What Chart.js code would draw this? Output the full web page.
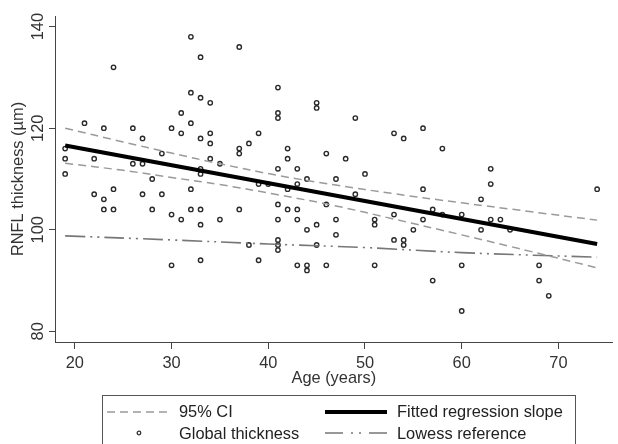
<!DOCTYPE html>
<html lang="en">
<head>
  <meta charset="UTF-8">
  <title>RNFL thickness by age</title>
  <script src="https://cdn.jsdelivr.net/npm/chart.js"></script>
  <style>
    body {
      margin: 0;
      background: #fff;
      font-family: "Liberation Sans", Arial, sans-serif;
    }
    #wrap {
      position: relative;
      width: 618px;
      height: 444px;
      overflow: hidden;
    }
    #legend {
      position: absolute;
      left: 102px;
      top: 395px;
      width: 472px;
      height: 70px;
      border: 1px solid #555;
      color: #222;
      font-size: 16.4px;
    }
    #legend .item {
      position: absolute;
      white-space: nowrap;
      line-height: 20px;
    }
    #legend svg {
      position: absolute;
    }
  </style>
</head>
<body>
<div id="wrap">
  <canvas id="myChart" width="618" height="444"></canvas>
  <div id="legend">
    <svg style="left:4px;top:11px" width="62" height="10"><line x1="0" y1="5" x2="62" y2="5" stroke="#9a9a9a" stroke-width="1.5" stroke-dasharray="8,5"/></svg>
    <div class="item" style="left:76px;top:5px">95% CI</div>
    <svg style="left:31px;top:32px" width="10" height="10"><circle cx="5" cy="5" r="1.8" fill="none" stroke="#333" stroke-width="1.3"/></svg>
    <div class="item" style="left:76px;top:27px">Global thickness</div>
    <svg style="left:222px;top:11px" width="62" height="10"><line x1="0" y1="5" x2="62" y2="5" stroke="#000" stroke-width="4"/></svg>
    <div class="item" style="left:294px;top:5px">Fitted regression slope</div>
    <svg style="left:222px;top:32px" width="62" height="10"><line x1="0" y1="5" x2="62" y2="5" stroke="#777" stroke-width="1.5" stroke-dasharray="18,8,2,6,2,8,18"/></svg>
    <div class="item" style="left:294px;top:27px">Lowess reference</div>
  </div>
</div>

<script>
  // Scatter values (age in years, thickness in µm)
  const ageValues = [
    32, 24, 33, 32, 33, 31, 21, 23, 26, 30, 32, 31, 27, 33, 19, 29, 19, 22, 26, 27, 19, 28, 33, 33,
    37, 41, 34, 45, 45, 41, 41, 49, 34, 39, 53, 54, 34, 38, 37, 37, 42, 42, 46, 48, 34, 35, 41, 43, 44, 47, 50,
    56, 58, 63,
    22, 23, 24, 23, 24, 27, 29, 28, 30, 31, 32, 32, 33, 33, 30, 33,
    35, 37, 38, 39, 40, 39, 41, 41, 41, 41, 41, 42, 42, 43, 43, 43, 43, 44, 44, 44, 45, 45, 46, 46, 47, 47, 49, 51, 51, 51, 53, 53, 54, 54,
    55, 56, 56, 57, 57, 58, 60, 60, 60, 62, 62, 63, 63, 64, 65, 68, 68, 69, 74
  ];
  const thicknessValues = [
    138, 132, 134, 127, 126, 123, 121, 120, 120, 120, 121, 119, 118, 118, 116, 115, 114, 114, 113, 113, 111, 110, 112, 111,
    136, 128, 125, 125, 124, 123, 122, 122, 119, 119, 119, 118, 117, 117, 116, 115, 116, 114, 115, 114, 114, 113, 112, 112, 110, 110, 111,
    120, 116, 112,
    107, 106, 108, 104, 104, 107, 107, 104, 103, 102, 108, 104, 104, 101, 93, 94,
    102, 104, 97, 109, 109, 94, 105, 102, 98, 97, 96, 108, 104, 109, 104, 102, 93, 100, 93, 92, 101, 97, 105, 93, 102, 99, 107, 102, 101, 93, 103, 98, 98, 97,
    100, 108, 102, 104, 90, 103, 103, 93, 84, 106, 100, 109, 102, 102, 100, 93, 90, 87, 108
  ];

  // Fitted regression slope
  const fitAge = [19, 74];
  const fitThickness = [116.6, 97.2];

  // 95% confidence band
  const ciAge = [19, 25, 30, 35, 41, 47, 53, 60, 67, 74];
  const ciUpper = [120.0, 117.3, 115.1, 113.0, 110.7, 108.8, 107.1, 105.3, 103.6, 101.9];
  const ciLower = [113.1, 111.7, 110.3, 108.9, 106.9, 104.7, 102.1, 99.0, 95.8, 92.5];

  // Lowess reference curve
  const lowessAge = [19, 30, 40, 50, 60, 74];
  const lowessThickness = [98.8, 98.0, 97.2, 96.5, 95.5, 94.6];

  const xTicks = [20, 30, 40, 50, 60, 70];
  const yTicks = [80, 100, 120, 140];

  const toPoints = (xs, ys) => xs.map((x, i) => ({ x: x, y: ys[i] }));

  const axisColor = '#444';
  const textColor = '#333';
  const font = { family: '"Liberation Sans", Arial, sans-serif', size: 16.4 };

  const ctx = document.getElementById('myChart').getContext('2d');
  const chart = new Chart(ctx, {
    type: 'scatter',
    data: {
      datasets: [
        {
          label: 'Global thickness',
          data: toPoints(ageValues, thicknessValues),
          pointRadius: 2.2,
          pointBorderWidth: 1.4,
          pointBorderColor: '#2a2a2a',
          pointBackgroundColor: 'rgba(0,0,0,0)',
          order: 4
        },
        {
          label: 'Lowess reference',
          data: toPoints(lowessAge, lowessThickness),
          showLine: true,
          pointRadius: 0,
          borderColor: '#777',
          borderWidth: 1.6,
          borderDash: [20, 5, 2, 5, 2, 5],
          tension: 0.4,
          order: 3
        },
        {
          label: '95% CI',
          data: toPoints(ciAge, ciUpper),
          showLine: true,
          pointRadius: 0,
          borderColor: '#9a9a9a',
          borderWidth: 1.5,
          borderDash: [8, 5],
          tension: 0.4,
          order: 2
        },
        {
          label: '95% CI lower',
          data: toPoints(ciAge, ciLower),
          showLine: true,
          pointRadius: 0,
          borderColor: '#9a9a9a',
          borderWidth: 1.5,
          borderDash: [8, 5],
          tension: 0.4,
          order: 2
        },
        {
          label: 'Fitted regression slope',
          data: toPoints(fitAge, fitThickness),
          showLine: true,
          pointRadius: 0,
          borderColor: '#000',
          borderWidth: 4,
          order: 1
        }
      ]
    },
    options: {
      responsive: false,
      animation: false,
      layout: { padding: { left: 0, top: 16, right: 1, bottom: 56 } },
      plugins: {
        legend: { display: false },
        tooltip: { enabled: false }
      },
      scales: {
        x: {
          type: 'linear',
          min: 17.95,
          max: 75.6,
          afterBuildTicks: s => { s.ticks = xTicks.map(v => ({ value: v })); },
          afterFit: s => { s.height = 46; },
          grid: { drawOnChartArea: false, drawTicks: true, tickLength: 7, color: axisColor },
          border: { color: axisColor, width: 1 },
          ticks: { color: textColor, font: font, padding: 5, maxRotation: 0 },
          title: { display: true, text: 'Age (years)', color: textColor, font: font, padding: { top: 0, bottom: 0 } }
        },
        y: {
          type: 'linear',
          min: 77.9,
          max: 142.1,
          afterBuildTicks: s => { s.ticks = yTicks.map(v => ({ value: v })); },
          afterFit: s => { s.width = 55; },
          grid: { drawOnChartArea: false, drawTicks: true, tickLength: 6, color: axisColor },
          border: { color: axisColor, width: 1 },
          ticks: { color: textColor, font: font, padding: -3, minRotation: 90, maxRotation: 90, crossAlign: 'center' },
          title: { display: true, text: 'RNFL thickness (µm)', color: textColor, font: font, padding: { top: 9, bottom: 0 } }
        }
      }
    }
  });
</script>
</body>
</html>
